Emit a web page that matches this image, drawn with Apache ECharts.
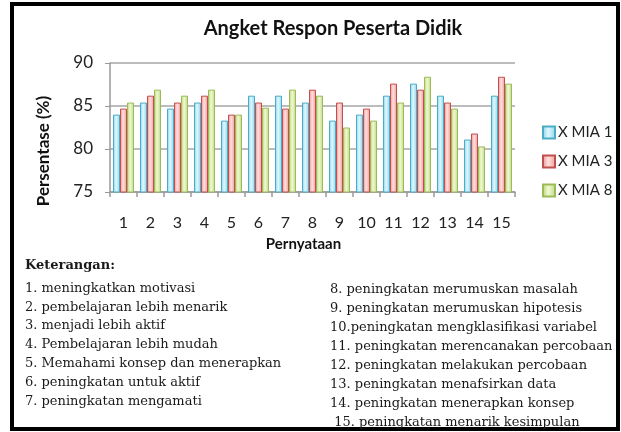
<!DOCTYPE html>
<html><head><meta charset="utf-8">
<script src="https://cdn.jsdelivr.net/npm/echarts@6/dist/echarts.min.js"></script>
<style>html,body{margin:0;padding:0;background:#fff}#c{width:621px;height:432px}</style>
</head><body><div id="c"></div>
<script>
const categories = ['1','2','3','4','5','6','7','8','9','10','11','12','13','14','15'];
const seriesNames = ['X MIA 1','X MIA 3','X MIA 8'];
const mia1 = [84.0, 85.4, 84.7, 85.4, 83.3, 86.2, 86.2, 85.4, 83.3, 84.0, 86.2, 87.6, 86.2, 81.1, 86.2];
const mia3 = [84.7, 86.2, 85.4, 86.2, 84.0, 85.4, 84.7, 86.9, 85.4, 84.7, 87.6, 86.9, 85.4, 81.8, 88.4];
const mia8 = [85.4, 86.9, 86.2, 86.9, 84.0, 84.8, 86.9, 86.2, 82.5, 83.3, 85.4, 88.4, 84.7, 80.3, 87.6];
const yTicks = [75, 80, 85, 90];
const notesLeft = ['1. meningkatkan motivasi', '2. pembelajaran lebih menarik', '3. menjadi lebih aktif',
  '4. Pembelajaran lebih mudah', '5. Memahami konsep dan menerapkan', '6. peningkatan untuk aktif', '7. peningkatan mengamati'];
const notesRight = ['8. peningkatan merumuskan masalah', '9. peningkatan merumuskan hipotesis', '10.peningkatan mengklasifikasi variabel',
  '11. peningkatan merencanakan percobaan', '12. peningkatan melakukan percobaan', '13. peningkatan menafsirkan data',
  '14. peningkatan menerapkan konsep', ' 15. peningkatan menarik kesimpulan'];

const chart = echarts.init(document.getElementById('c'));
function grad(edge, mid, edge2){
  return new echarts.graphic.LinearGradient(0,0,1,0,[{offset:0,color:edge},{offset:0.45,color:mid},{offset:1,color:edge2}]);
}
const styles = [
  {color: grad('#7fd2ea','#e2f7fd','#8ad6ec'), borderColor:'#4bacc6'},
  {color: grad('#ef8e8c','#fde0df','#f29a98'), borderColor:'#c0504d'},
  {color: grad('#b3d36a','#f1f9d6','#bcd97c'), borderColor:'#9bbb59'}
];
const data = [mia1, mia3, mia8];
const graphics = [{type:'rect', shape:{x:12,y:4,width:606,height:425}, style:{fill:'none', stroke:'#000', lineWidth:4}}];
const noteFont = '13px "DejaVu Serif"';
graphics.push({type:'text', left:25, top:259, style:{text:'Keterangan:', font:'bold '+noteFont, fill:'#1a1a1a'}});
notesLeft.forEach((t,i)=>graphics.push({type:'text', left:25, top:282+i*18.8, style:{text:t, font:noteFont, fill:'#1a1a1a'}}));
notesRight.forEach((t,i)=>graphics.push({type:'text', left:330, top:283+i*19, style:{text:t, font:noteFont, fill:'#1a1a1a'}}));
graphics.push({type:'text', x:44, y:151, rotation:Math.PI/2,
  style:{text:'Persentase (%)', font:'bold 17px Lato', fill:'#111', textAlign:'center', textVerticalAlign:'middle'}});

chart.setOption({
  animation:false,
  title:{text:'Angket Respon Peserta Didik', left:328, top:14, textAlign:'center',
    textStyle:{fontFamily:'Lato', fontWeight:'bold', fontSize:20, color:'#111'}},
  legend:{orient:'vertical', left:537, top:120, itemWidth:12, itemHeight:12, itemGap:14,
    data: seriesNames.map((n,i)=>({name:n, icon:'rect'})),
    textStyle:{fontFamily:'Lato', fontSize:15, color:'#222', padding:[0,0,0,-2]}},
  grid:{left:110, right:106, top:63, bottom:240, containLabel:false},
  xAxis:{type:'category', data:categories, name:'Pernyataan', nameLocation:'middle', nameGap:45,
    nameTextStyle:{fontFamily:'Lato', fontWeight:'bold', fontSize:15, color:'#111', padding:[0,18,0,0]},
    axisLine:{lineStyle:{color:'#999', width:1.5}}, axisTick:{show:true, lineStyle:{color:'#999', width:1.5}, length:5},
    axisLabel:{fontFamily:'Lato', fontSize:16, color:'#222', margin:23}},
  yAxis:{type:'value', min:75, max:90, interval:5,
    axisLine:{show:true, lineStyle:{color:'#999', width:1.5}}, axisTick:{show:true, length:5, lineStyle:{color:'#999'}},
    axisLabel:{fontFamily:'Lato', fontSize:17, color:'#222', margin:17, formatter:v=>yTicks.includes(v)?String(v):''},
    splitLine:{lineStyle:{color:'#a6a6a6', width:1.5}}},
  series: seriesNames.map((n,i)=>({name:n, type:'bar', data:data[i], barWidth:7, barGap:'0%',
    itemStyle:Object.assign({borderWidth:1}, styles[i])})),
  graphic: graphics
});
</script></body></html>
